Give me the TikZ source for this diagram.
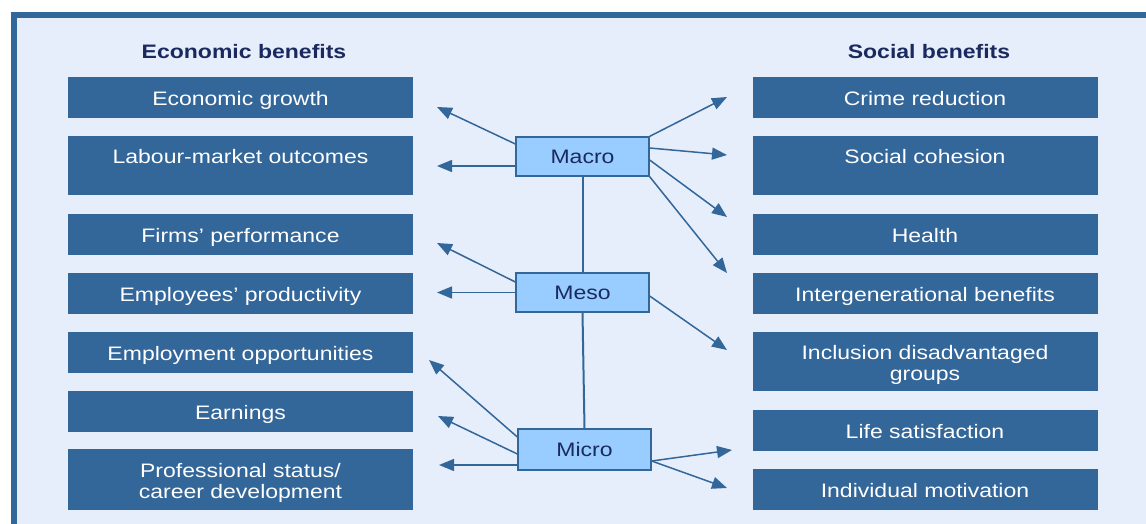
\documentclass[tikz,border=0pt]{standalone}
\usepackage{fontspec}
\setmainfont{Liberation Sans}[FakeStretch=1.18]
\usetikzlibrary{arrows.meta,calc}
\definecolor{boxblue}{HTML}{336699}
\definecolor{lightblue}{HTML}{99CCFF}
\definecolor{bgblue}{HTML}{E6EEFB}
\definecolor{navy}{HTML}{1B2A5E}
\begin{document}
\begin{tikzpicture}[x=1pt,y=-1pt,
  ebox/.style={fill=boxblue,text=white,minimum width=345pt,minimum height=41pt,inner sep=0pt,align=center,font=\fontsize{19.5}{21}\selectfont,text height=16pt,text depth=0pt},
  tallbox/.style={ebox,minimum height=59pt},
  topline/.style={text height=0pt,text depth=3pt},
  twoline/.style={text height=37pt,text depth=0pt},
  level/.style={fill=lightblue,draw=boxblue,line width=1.3pt,text=navy,minimum width=133pt,minimum height=39pt,inner sep=0pt,font=\fontsize{19.5}{21}\selectfont},
  head/.style={text=navy,font=\fontsize{19.5}{21}\selectfont\bfseries},
  arr/.style={draw=boxblue,line width=1.5pt,-{Triangle[length=15pt,width=12pt]}},
  vline/.style={draw=boxblue,line width=2pt}]
\useasboundingbox (0,0) rectangle (1146,524);
\clip (0,0) rectangle (1146,524);
\draw[fill=bgblue,draw=boxblue,line width=6pt] (13.5,15.5) rectangle (1170,550);

% headers
\node[head] (hecon) at (244,51.5) {Economic benefits};
\node[head] (hsoc) at (929,51.5) {Social benefits};

% left boxes
\node[ebox] (eg) at (240.5,97.5) {Economic growth};
\node[tallbox,topline] (lm) at (240.5,165.5) {Labour-market outcomes};
\node[ebox] (fp) at (240.5,234) {Firms' performance};
\node[ebox] (ep) at (240.5,293) {Employees' productivity};
\node[ebox] (eo) at (240.5,352) {Employment opportunities};
\node[ebox] (ea) at (240.5,411) {Earnings};
\node[tallbox,twoline,minimum height=61pt] (ps) at (240.5,479.5) {Professional status/\\career development};

% right boxes
\node[ebox] (cr) at (925,97.5) {Crime reduction};
\node[tallbox,topline] (sc) at (925,165.5) {Social cohesion};
\node[ebox] (he) at (925,234) {Health};
\node[ebox] (ib) at (925,293) {Intergenerational benefits};
\node[tallbox,twoline] (id) at (925,361.5) {Inclusion disadvantaged\\groups};
\node[ebox] (ls) at (925,430) {Life satisfaction};
\node[ebox] (im) at (925,489) {Individual motivation};

% level boxes
\node[level] (macro) at (582.5,156.5) {Macro};
\node[level] (meso) at (582.5,292.5) {Meso};
\node[level,minimum height=41pt] (micro) at (584.5,449.5) {Micro};

\draw[vline] (macro.south) -- (meso.north);
\draw[vline] (meso.south) -- (micro.north);

% arrow tips
\coordinate (ma1) at (437,107);
\coordinate (ma2) at (437,166);
\coordinate (ma3) at (727,97);
\coordinate (ma4) at (727,155);
\coordinate (ma5) at (727,217);
\coordinate (ma6) at (727,273);
\coordinate (me1) at (437,243);
\coordinate (me2) at (437,292.5);
\coordinate (me3) at (727,350);
\coordinate (mi1) at (429,360);
\coordinate (mi2) at (438,416);
\coordinate (mi3) at (439,465);
\coordinate (mi4) at (732,450);
\coordinate (mi5) at (727,488);

\draw[arr] ([yshift=12.5pt]macro.west) -- (ma1);
\draw[arr] ([yshift=-9.5pt]macro.west) -- (ma2);
\draw[arr] (macro.north east) -- (ma3);
\draw[arr] ([yshift=8.5pt]macro.east) -- (ma4);
\draw[arr] ([yshift=-3.5pt]macro.east) -- (ma5);
\draw[arr] (macro.south east) -- (ma6);

\draw[arr] ([yshift=10.5pt]meso.west) -- (me1);
\draw[arr] (meso.west) -- (me2);
\draw[arr] ([yshift=-3.5pt]meso.east) -- (me3);

\draw[arr] ([yshift=12.5pt]micro.west) -- (mi1);
\draw[arr] ([yshift=-4.5pt]micro.west) -- (mi2);
\draw[arr] ([yshift=-15.5pt]micro.west) -- (mi3);
\draw[arr] ([yshift=-11.5pt]micro.east) -- (mi4);
\draw[arr] ([yshift=-11.5pt]micro.east) -- (mi5);
\end{tikzpicture}
\end{document}
